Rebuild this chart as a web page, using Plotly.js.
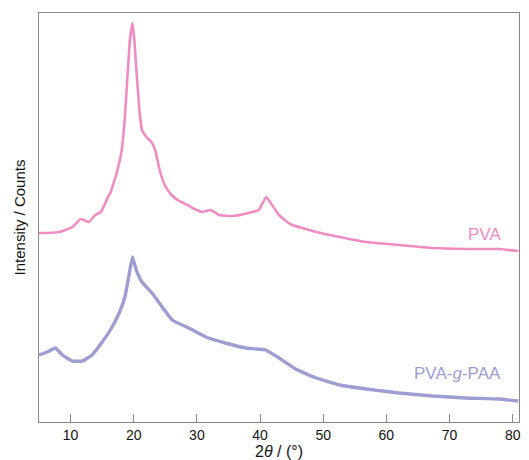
<!DOCTYPE html>
<html>
<head>
<meta charset="utf-8">
<script src="https://cdn.plot.ly/plotly-3.0.1.min.js"></script>
<style>html,body{margin:0;padding:0;background:#fff;}#chart{width:529px;height:460px;}</style>
</head>
<body>
<div id="chart"></div>
<script>
// 2θ positions (degrees) and relative intensities (arbitrary units)
const pvaAngle = [5, 6.5, 8.2, 10.3, 11.6, 12.9, 13.9, 14.8, 16.0, 16.3, 17.3, 18.1, 18.6, 19.0, 19.4, 19.8, 20.1, 20.5, 20.9, 21.3, 22.0, 22.8, 23.4, 24.1, 24.9, 25.6, 26.0, 27.2, 27.6, 29.3, 30.8, 32.2, 33.5, 35.6, 38.2, 39.8, 40.5, 41.0, 41.9, 43.0, 44.3, 45.1, 48.9, 52.6, 56.8, 62, 67.3, 72.6, 77.8, 80.9];
const pvaIntensity = [189, 189, 190, 195, 203, 200, 207, 210, 226, 229, 249, 272, 305, 345, 382, 399, 382, 345, 312, 292, 285, 280, 272, 252, 237, 230, 227, 221, 220, 214, 210, 212, 207, 206, 209, 212, 220, 225, 217, 207, 200, 197, 190, 185, 180, 177, 174, 173, 173, 171];

const graftAngle = [5, 6.3, 7.6, 8.7, 10.3, 11.9, 13.4, 15.0, 16.3, 17.7, 18.6, 19.2, 19.8, 20.4, 21.3, 22.9, 24.5, 26.1, 28.7, 31.4, 34.5, 37.7, 40.9, 43.0, 45.6, 48.9, 52.6, 56.8, 62, 67.3, 72.6, 77.8, 80.9];
const graftIntensity = [67, 70, 74, 67, 61, 61, 67, 80, 92, 109, 125, 145, 165, 152, 140, 129, 115, 102, 94, 85, 79, 74, 72, 64, 53, 44, 37, 33, 29, 26, 24, 23, 21];

const seriesNames = ['PVA', 'PVA-<i>g</i>-PAA'];
const xTicks = [10, 20, 30, 40, 50, 60, 70, 80];

const pink = '#f08cc4';
const purple = '#9d9dd2';

const traces = [
  {x: pvaAngle, y: pvaIntensity, mode: 'lines', line: {color: pink, width: 2.6, shape: 'spline', smoothing: 0.35}, hoverinfo: 'skip', showlegend: false},
  {x: graftAngle, y: graftIntensity, mode: 'lines', line: {color: purple, width: 3.4, shape: 'spline', smoothing: 0.35}, hoverinfo: 'skip', showlegend: false}
];

const layout = {
  width: 529, height: 460,
  margin: {l: 39, r: 10, t: 13, b: 38},
  paper_bgcolor: '#fff', plot_bgcolor: '#fff',
  font: {family: 'Liberation Sans, Arial, sans-serif', color: '#111', size: 14},
  xaxis: {
    range: [5, 81], tickvals: xTicks, ticktext: xTicks.map(String),
    ticks: 'inside', ticklen: 8, tickcolor: '#888', tickwidth: 1,
    showline: true, linecolor: '#888', linewidth: 1, mirror: true,
    showgrid: false, zeroline: false,
    tickfont: {size: 14},
    title: {text: '2<i>θ</i> / (°)', font: {size: 16}, standoff: 1}
  },
  yaxis: {
    range: [0, 409], showticklabels: false, ticks: '',
    showline: true, linecolor: '#888', linewidth: 1, mirror: true,
    showgrid: false, zeroline: false,
    title: {text: 'Intensity / Counts', font: {size: 15}, standoff: 8}
  },
  annotations: [
    {x: 78.4, y: 188, xref: 'x', yref: 'y', text: seriesNames[0], showarrow: false, xanchor: 'right', yanchor: 'middle', font: {size: 17, color: pink}},
    {x: 78.4, y: 49, xref: 'x', yref: 'y', text: seriesNames[1], showarrow: false, xanchor: 'right', yanchor: 'middle', font: {size: 17, color: purple}}
  ]
};

Plotly.newPlot('chart', traces, layout, {displayModeBar: false, staticPlot: true});
</script>
</body>
</html>
